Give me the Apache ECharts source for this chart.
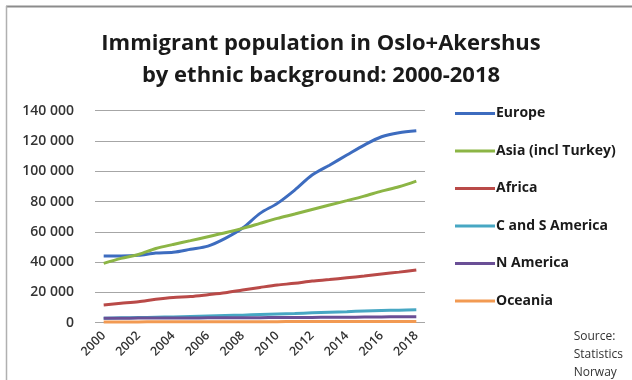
<!DOCTYPE html>
<html><head><meta charset="utf-8">
<script src="https://cdn.jsdelivr.net/npm/echarts@6/dist/echarts.min.js"></script>
<style>html,body{margin:0;padding:0;background:#fff}#c{width:632px;height:380px}</style>
</head><body><div id="c"></div>
<script>
const years = ['2000','2001','2002','2003','2004','2005','2006','2007','2008','2009','2010','2011','2012','2013','2014','2015','2016','2017','2018'];
const europe = [44000,44000,44500,46000,46500,48500,50600,55700,62500,72200,78800,87600,97500,104000,110700,117300,122800,125500,126800];
const asia = [39200,42500,45000,49000,51700,54200,56800,59400,62300,65600,68900,71800,74800,77700,80600,83600,86900,89800,93500];
const africa = [11700,12800,13900,15500,16700,17300,18500,19800,21600,23300,24900,26000,27500,28500,29700,30800,32100,33400,34800];
const csAmerica = [3000,3200,3400,3600,3800,4100,4400,4700,5000,5400,5800,6100,6500,6900,7300,7700,8000,8300,8600];
const nAmerica = [3000,3000,3050,3100,3100,3150,3200,3250,3300,3350,3400,3450,3500,3550,3600,3700,3800,3900,4000];
const oceania = [500,520,540,560,580,600,620,640,660,680,700,720,740,760,780,800,820,840,860];
const seriesNames = ['Europe','Asia (incl Turkey)','Africa','C and S America','N America','Oceania'];
const colors = ['#3d6cbf','#8cb545','#b94a48','#47a7c3','#6a4f96','#f29a52'];
const yTicks = [0,20000,40000,60000,80000,100000,120000,140000];
const sourceLines = ['Source:','Statistics','Norway'];

const FONT = 'Open Sans';
const data = [europe, asia, africa, csAmerica, nAmerica, oceania];
const chart = echarts.init(document.getElementById('c'));
chart.setOption({
  animation: false,
  color: colors,
  textStyle: {fontFamily: FONT},
  title: {
    text: 'Immigrant population in Oslo+Akershus\nby ethnic background: 2000-2018',
    left: 316, textAlign: 'center', top: 23,
    textStyle: {fontFamily: FONT, fontSize: 22, fontWeight: 'bold', color: '#1a1a1a', lineHeight: 32}
  },
  grid: {left: 95, right: 207, top: 110.7, bottom: 57.3, containLabel: false},
  xAxis: {
    type: 'category', data: years, boundaryGap: true,
    axisLine: {show: false}, axisTick: {show: false},
    axisLabel: {interval: 1, rotate: 45, margin: 11, fontSize: 12.5, fontWeight: 600, color: '#333', fontFamily: FONT}
  },
  yAxis: {
    type: 'value', min: yTicks[0], max: yTicks[yTicks.length-1], interval: 20000,
    axisLine: {show: false}, axisTick: {show: false},
    splitLine: {lineStyle: {color: '#a6a6a6', width: 1}},
    axisLabel: {margin: 21, fontSize: 14, fontWeight: 600, color: '#333', fontFamily: FONT,
      formatter: v => String(v).replace(/\B(?=(\d{3})+(?!\d))/g, ' ')}
  },
  legend: {
    orient: 'vertical', left: 450, top: 100.5,
    itemWidth: 40, itemHeight: 3, itemGap: 21.5, icon: 'rect',
    textStyle: {fontSize: 14, fontWeight: 'bold', color: '#1a1a1a', lineHeight: 16, fontFamily: FONT, padding: [0,0,0,-4]},
    data: seriesNames
  },
  graphic: [
    {type: 'line', shape: {x1: 6, y1: 6.5, x2: 632, y2: 6.5}, style: {stroke: '#8c8c8c', lineWidth: 2}},
    {type: 'line', shape: {x1: 6.5, y1: 6, x2: 6.5, y2: 380}, style: {stroke: '#b0b0b0', lineWidth: 1.5}},
    {type: 'text', right: 9, top: 328, style: {text: sourceLines.join('\n'), align: 'right', fontSize: 12, lineHeight: 18, fill: '#333', fontFamily: FONT}}
  ],
  series: seriesNames.map((n, i) => ({
    name: n, type: 'line', data: data[i], smooth: 0.3, symbol: 'none',
    lineStyle: {width: 3, color: colors[i]}, itemStyle: {color: colors[i]}
  }))
});
</script></body></html>
